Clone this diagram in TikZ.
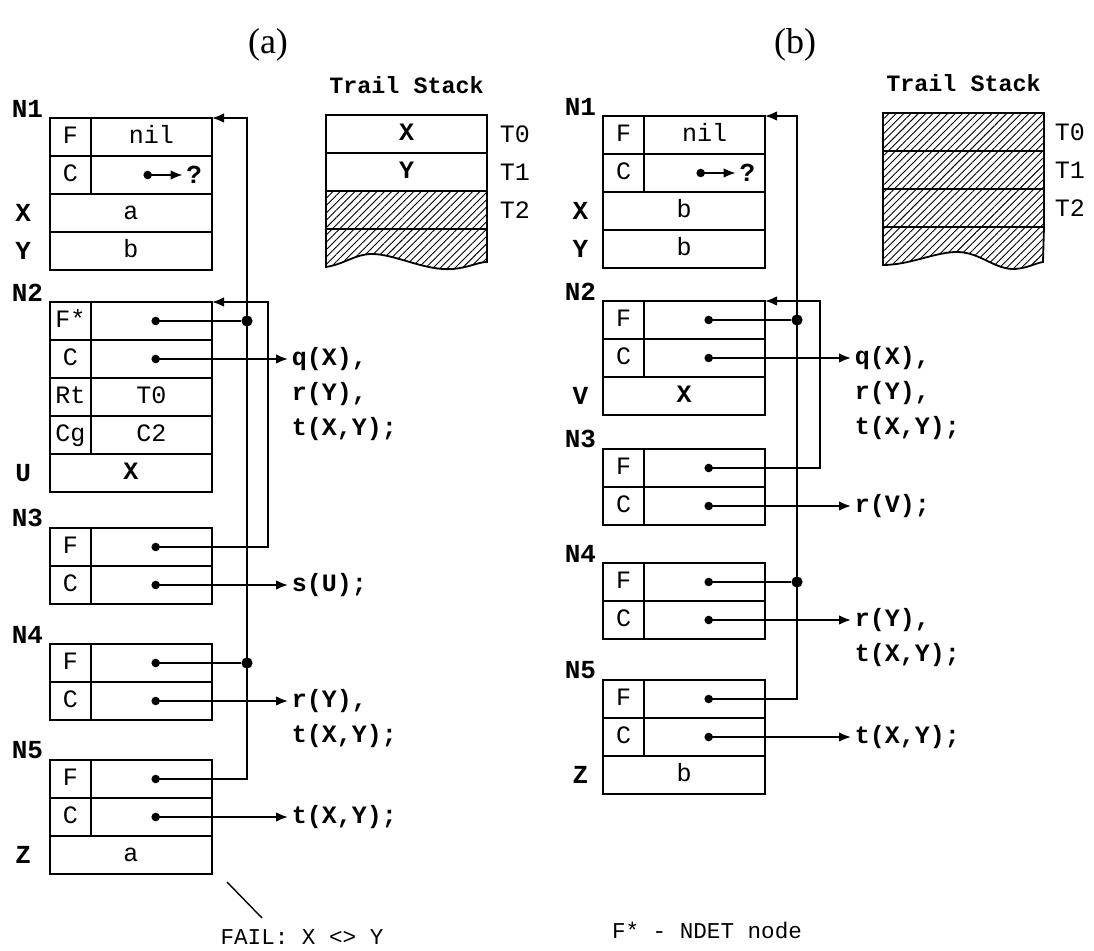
\documentclass[tikz,border=0pt]{standalone}
\usepackage{fontspec}
\setmonofont{Liberation Mono}
\newfontfamily\captfont{Liberation Serif}
\usetikzlibrary{arrows.meta, positioning, patterns.meta}

\begin{document}
\begin{tikzpicture}[
    x=0.5pt, y=-0.5pt,
    line width=0.9pt,
    cell/.style={draw, outer sep=0pt, minimum height=19pt, inner sep=1pt, text height=9pt, text depth=2.5pt, font=\ttfamily\fontsize{12.5}{14}\selectfont},
    tag/.style={cell, minimum width=20.5pt},
    val/.style={cell, minimum width=60.5pt},
    wide/.style={cell, minimum width=81pt},
    stackrow/.style={cell, minimum width=80.5pt},
    hatch/.style={pattern={Lines[angle=45, distance=2.6pt, line width=0.45pt]}},
    nlab/.style={inner sep=0pt, font=\ttfamily\bfseries\fontsize{13}{15}\selectfont},
    rowlab/.style={inner sep=0pt, font=\ttfamily\bfseries\fontsize{13}{15}\selectfont},
    goal/.style={inner sep=1.5pt, text height=9pt, text depth=2.5pt, font=\ttfamily\bfseries\fontsize{12.5}{14}\selectfont},
    tlab/.style={inner sep=0pt, font=\ttfamily\fontsize{12.5}{14}\selectfont},
    note/.style={inner sep=0pt, font=\ttfamily\fontsize{11.3}{13}\selectfont},
    capt/.style={font=\captfont\fontsize{18}{20}\selectfont},
    stacktitle/.style={inner sep=0pt, font=\ttfamily\bfseries\fontsize{11.7}{14}\selectfont},
    ptr/.style={{Circle[length=4.2pt]}-{Latex[length=6pt, width=4.8pt]}},
    link/.style={{Circle[length=4.2pt]}-},
    jdot/.style={fill, circle, inner sep=0pt, minimum size=5.6pt},
]
\useasboundingbox (0,0) rectangle (1094,951);

\node[capt] (capa) at (268,45) {(a)};
\node[capt] (capb) at (795,45) {(b)};

% ---- (a) frames
\node[tag, anchor=north west] (a1F) at (50,118) {F};
\node[val, right=0pt of a1F] (a1Fv) {nil};
\node[tag, below=0pt of a1F] (a1C) {C};
\node[val, right=0pt of a1C] (a1Cv) {};
\node[wide, below right=0pt and 0pt of a1C.south west] (a1X) {a};
\node[wide, below=0pt of a1X] (a1Y) {b};
\node[nlab, above left=0pt and 3pt of a1F.north west] (a1N) {N1};
\node[rowlab, left=9pt of a1X] (a1Xl) {X};
\node[rowlab, left=9pt of a1Y] (a1Yl) {Y};
\node[rowlab, inner sep=1.5pt, left=3pt of a1Cv.east] (a1q) {?};
\coordinate[left=4pt of a1Cv.center] (a1d);
\draw[ptr] (a1d) -- (a1q);

\node[tag, anchor=north west] (a2F) at (50,302) {F*};
\node[val, right=0pt of a2F] (a2Fv) {};
\node[tag, below=0pt of a2F] (a2C) {C};
\node[val, right=0pt of a2C] (a2Cv) {};
\node[tag, below=0pt of a2C] (a2R) {Rt};
\node[val, right=0pt of a2R] (a2Rv) {T0};
\node[tag, below=0pt of a2R] (a2G) {Cg};
\node[val, right=0pt of a2G] (a2Gv) {C2};
\node[wide, below right=0pt and 0pt of a2G.south west] (a2U) {\bfseries X};
\node[nlab, above left=0pt and 3pt of a2F.north west] (a2N) {N2};
\node[rowlab, left=9pt of a2U] (a2Ul) {U};

\node[tag, anchor=north west] (a3F) at (50,528) {F};
\node[val, right=0pt of a3F] (a3Fv) {};
\node[tag, below=0pt of a3F] (a3C) {C};
\node[val, right=0pt of a3C] (a3Cv) {};
\node[nlab, above left=0pt and 3pt of a3F.north west] (a3N) {N3};

\node[tag, anchor=north west] (a4F) at (50,644) {F};
\node[val, right=0pt of a4F] (a4Fv) {};
\node[tag, below=0pt of a4F] (a4C) {C};
\node[val, right=0pt of a4C] (a4Cv) {};
\node[nlab, above left=0pt and 3pt of a4F.north west] (a4N) {N4};

\node[tag, anchor=north west] (a5F) at (50,760) {F};
\node[val, right=0pt of a5F] (a5Fv) {};
\node[tag, below=0pt of a5F] (a5C) {C};
\node[val, right=0pt of a5C] (a5Cv) {};
\node[wide, below right=0pt and 0pt of a5C.south west] (a5Z) {a};
\node[nlab, above left=0pt and 3pt of a5F.north west] (a5N) {N5};
\node[rowlab, left=9pt of a5Z] (a5Zl) {Z};

% ---- (a) links
\coordinate (aBus1) at (247,118);
\coordinate (aBus2) at (268,302);
\draw[ptr] (a5Fv.center) -| (aBus1) -- (a1Fv.north east);
\draw[ptr] (a3Fv.center) -| (aBus2) -- (a2Fv.north east);
\node[jdot] (a2j) at (a2Fv.center -| aBus1) {};
\node[jdot] (a4j) at (a4Fv.center -| aBus1) {};
\draw[link] (a2Fv.center) -- (a2j);
\draw[link] (a4Fv.center) -- (a4j);

\node[goal, right=38pt of a2Cv] (ga2) {q(X),};
\node[goal, below right=2pt and 0pt of ga2.south west] (ga2b) {r(Y),};
\node[goal, below right=2pt and 0pt of ga2b.south west] (ga2c) {t(X,Y);};
\node[goal, right=38pt of a3Cv] (ga3) {s(U);};
\node[goal, right=38pt of a4Cv] (ga4) {r(Y),};
\node[goal, below right=2pt and 0pt of ga4.south west] (ga4b) {t(X,Y);};
\node[goal, right=38pt of a5Cv] (ga5) {t(X,Y);};
\draw[ptr] (a2Cv.center) -- (ga2);
\draw[ptr] (a3Cv.center) -- (ga3);
\draw[ptr] (a4Cv.center) -- (ga4);
\draw[ptr] (a5Cv.center) -- (ga5);

% ---- (a) trail stack
\node[stackrow, anchor=north west] (tsa0) at (326,115) {\bfseries X};
\node[stackrow, below=0pt of tsa0] (tsa1) {\bfseries Y};
\node[stackrow, hatch, below=0pt of tsa1] (tsa2) {};
\draw[hatch] (tsa2.south west) -- (tsa2.south east) -- (487,262)
    .. controls (478,262) and (468,268) .. (452,269)
    .. controls (425,271) and (395,254) .. (372,254)
    .. controls (355,254) and (345,264) .. (326,267) -- cycle;
\node[stacktitle, above=10pt of tsa0] (tsaT) {Trail Stack};
\node[tlab, right=6pt of tsa0] (ta0) {T0};
\node[tlab, right=6pt of tsa1] (ta1) {T1};
\node[tlab, right=6pt of tsa2] (ta2) {T2};

\coordinate (failA) at (227,882);
\coordinate (failB) at (262,918);
\draw[line width=0.7pt] (failA) -- (failB);
\node[note] (fail) at (302,937) {FAIL: X <> Y};

% ---- (b) frames
\node[tag, anchor=north west] (b1F) at (603,116) {F};
\node[val, right=0pt of b1F] (b1Fv) {nil};
\node[tag, below=0pt of b1F] (b1C) {C};
\node[val, right=0pt of b1C] (b1Cv) {};
\node[wide, below right=0pt and 0pt of b1C.south west] (b1X) {b};
\node[wide, below=0pt of b1X] (b1Y) {b};
\node[nlab, above left=0pt and 3pt of b1F.north west] (b1N) {N1};
\node[rowlab, left=7pt of b1X] (b1Xl) {X};
\node[rowlab, left=7pt of b1Y] (b1Yl) {Y};
\node[rowlab, inner sep=1.5pt, left=3pt of b1Cv.east] (b1q) {?};
\coordinate[left=4pt of b1Cv.center] (b1d);
\draw[ptr] (b1d) -- (b1q);

\node[tag, anchor=north west] (b2F) at (603,301) {F};
\node[val, right=0pt of b2F] (b2Fv) {};
\node[tag, below=0pt of b2F] (b2C) {C};
\node[val, right=0pt of b2C] (b2Cv) {};
\node[wide, below right=0pt and 0pt of b2C.south west] (b2V) {\bfseries X};
\node[nlab, above left=0pt and 3pt of b2F.north west] (b2N) {N2};
\node[rowlab, left=7pt of b2V] (b2Vl) {V};

\node[tag, anchor=north west] (b3F) at (603,449) {F};
\node[val, right=0pt of b3F] (b3Fv) {};
\node[tag, below=0pt of b3F] (b3C) {C};
\node[val, right=0pt of b3C] (b3Cv) {};
\node[nlab, above left=0pt and 3pt of b3F.north west] (b3N) {N3};

\node[tag, anchor=north west] (b4F) at (603,563) {F};
\node[val, right=0pt of b4F] (b4Fv) {};
\node[tag, below=0pt of b4F] (b4C) {C};
\node[val, right=0pt of b4C] (b4Cv) {};
\node[nlab, above left=0pt and 3pt of b4F.north west] (b4N) {N4};

\node[tag, anchor=north west] (b5F) at (603,680) {F};
\node[val, right=0pt of b5F] (b5Fv) {};
\node[tag, below=0pt of b5F] (b5C) {C};
\node[val, right=0pt of b5C] (b5Cv) {};
\node[wide, below right=0pt and 0pt of b5C.south west] (b5Z) {b};
\node[nlab, above left=0pt and 3pt of b5F.north west] (b5N) {N5};
\node[rowlab, left=7pt of b5Z] (b5Zl) {Z};

% ---- (b) links
\coordinate (bBus1) at (797,116);
\coordinate (bBus2) at (820,301);
\draw[ptr] (b5Fv.center) -| (bBus1) -- (b1Fv.north east);
\draw[ptr] (b3Fv.center) -| (bBus2) -- (b2Fv.north east);
\node[jdot] (b2j) at (b2Fv.center -| bBus1) {};
\node[jdot] (b4j) at (b4Fv.center -| bBus1) {};
\draw[link] (b2Fv.center) -- (b2j);
\draw[link] (b4Fv.center) -- (b4j);

\node[goal, right=43pt of b2Cv] (gb2) {q(X),};
\node[goal, below right=2pt and 0pt of gb2.south west] (gb2b) {r(Y),};
\node[goal, below right=2pt and 0pt of gb2b.south west] (gb2c) {t(X,Y);};
\node[goal, right=43pt of b3Cv] (gb3) {r(V);};
\node[goal, right=43pt of b4Cv] (gb4) {r(Y),};
\node[goal, below right=2pt and 0pt of gb4.south west] (gb4b) {t(X,Y);};
\node[goal, right=43pt of b5Cv] (gb5) {t(X,Y);};
\draw[ptr] (b2Cv.center) -- (gb2);
\draw[ptr] (b3Cv.center) -- (gb3);
\draw[ptr] (b4Cv.center) -- (gb4);
\draw[ptr] (b5Cv.center) -- (gb5);

% ---- (b) trail stack
\node[stackrow, hatch, anchor=north west] (tsb0) at (883,113) {};
\node[stackrow, hatch, below=0pt of tsb0] (tsb1) {};
\node[stackrow, hatch, below=0pt of tsb1] (tsb2) {};
\draw[hatch] (tsb2.south west) -- (tsb2.south east) -- (1043,262)
    .. controls (1036,263) and (1028,268) .. (1015,269)
    .. controls (995,270) and (980,252) .. (957,252)
    .. controls (935,252) and (910,265) .. (883,265) -- cycle;
\node[stacktitle, above=10pt of tsb0] (tsbT) {Trail Stack};
\node[tlab, right=5pt of tsb0] (tb0) {T0};
\node[tlab, right=5pt of tsb1] (tb1) {T1};
\node[tlab, right=5pt of tsb2] (tb2) {T2};

\node[note] (ndet) at (707,930) {F* - NDET node};

\end{tikzpicture}
\end{document}
